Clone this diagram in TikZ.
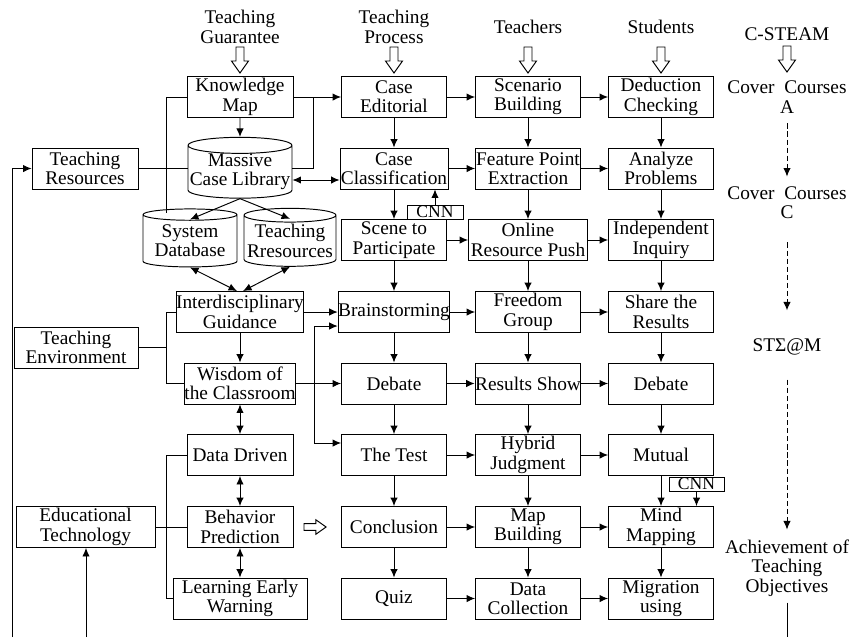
\documentclass[tikz,border=0pt]{standalone}
\usepackage{fontspec}
\setmainfont{Liberation Serif}
\usetikzlibrary{arrows.meta, shapes.geometric, positioning}

\tikzset{
  box/.style={draw, align=center, inner sep=0pt, minimum width=2.1cm, minimum height=0.82cm},
  db/.style={draw, cylinder, shape border rotate=90, aspect=0.16, align=center, inner sep=0pt},
  cnn/.style={draw, inner sep=0pt, minimum height=0.28cm, font=\fontsize{10}{10}\selectfont},
  head/.style={align=center},
  dasharrow/.style={->, dash pattern=on 3pt off 1.6pt},
  hollowdown/.pic={\draw[fill=white] (-4,0) -- (4,0) -- (4,14) -- (8.5,14) -- (0,26) -- (-8.5,14) -- (-4,14) -- cycle;},
}

\begin{document}
\begin{tikzpicture}[x=0.02cm, y=-0.02cm, line width=0.55pt,
  >={Latex[length=1.7mm, width=1.5mm]},
  every node/.style={font=\fontsize{11}{11}\selectfont}]

  \useasboundingbox (0,0) rectangle (850,637);

  % Column heads
  \node[head] (hguar) at (240,27) {Teaching\\Guarantee};
  \node[head] (hproc) at (394,27) {Teaching\\Process};
  \node[head] (hteach) at (528,27) {Teachers};
  \node[head] (hstud) at (661,27) {Students};
  \node[head] (hsteam) at (787,34) {C-STEAM};
  \pic at (240,47) {hollowdown};
  \pic at (394,47) {hollowdown};
  \pic at (528,47) {hollowdown};
  \pic at (661,47) {hollowdown};
  \pic at (787,46) {hollowdown};

  % Teaching guarantee
  \node[box, minimum width=2.12cm] (km) at (240,97) {Knowledge\\Map};
  \node[db, minimum height=1.2cm, minimum width=2.08cm] (mcl) at (240,172) {Massive\\Case Library};
  \node[db, minimum height=1.16cm, minimum width=1.88cm] (sdb) at (190,241) {System\\Database};
  \node[db, minimum height=1.16cm, minimum width=1.84cm] (trr) at (290,241) {Teaching\\Rresources};
  \node[box] (ig) at (240,312) {Interdisciplinary\\Guidance};
  \node[box, minimum width=2.22cm] (wc) at (240,383.5) {Wisdom of\\the Classroom};
  \node[box, minimum width=2.12cm] (dd) at (240,455) {Data Driven};
  \node[box, minimum width=2.12cm] (bp) at (240,527) {Behavior\\Prediction};
  \node[box, minimum width=2.68cm] (lew) at (240,598.5) {Learning Early\\Warning};

  % Left side
  \node[box, minimum width=2.12cm] (tres) at (85,168.5) {Teaching\\Resources};
  \node[box, minimum width=2.48cm] (tenv) at (76,347.5) {Teaching\\Environment};
  \node[box, minimum width=2.78cm] (etech) at (85.5,527) {Educational\\Technology};

  % Teaching process
  \node[box] (ce) at (394,97) {Case\\Editorial};
  \node[box, minimum width=2.16cm] (cc) at (394,168.5) {Case\\Classification};
  \node[box] (stp) at (394,240) {Scene to\\Participate};
  \node[box, minimum width=2.22cm] (bs) at (394,312) {Brainstorming};
  \node[box] (deb1) at (394,383.5) {Debate};
  \node[box] (test) at (394,455) {The Test};
  \node[box] (concl) at (394,527) {Conclusion};
  \node[box] (quiz) at (394,598.5) {Quiz};
  \node[cnn, minimum width=1.12cm] (cnn1) at (435,212) {CNN};

  % Teachers
  \node[box] (sb) at (528,97) {Scenario\\Building};
  \node[box] (fpe) at (528,168.5) {Feature Point\\Extraction};
  \node[box, minimum width=2.38cm] (orp) at (528,240) {Online\\Resource Push};
  \node[box] (fg) at (528,312) {Freedom\\Group};
  \node[box] (rs) at (528,383.5) {Results Show};
  \node[box] (hj) at (528,455) {Hybrid\\Judgment};
  \node[box] (mb) at (528,527) {Map\\Building};
  \node[box] (dc) at (528,598.5) {Data\\Collection};

  % Students
  \node[box] (dch) at (661,97) {Deduction\\Checking};
  \node[box] (ap) at (661,168.5) {Analyze\\Problems};
  \node[box] (ii) at (661,240) {Independent\\Inquiry};
  \node[box] (sr) at (661,312) {Share the\\Results};
  \node[box] (deb2) at (661,383.5) {Debate};
  \node[box] (mut) at (661,455) {Mutual};
  \node[box] (mm) at (661,527) {Mind\\Mapping};
  \node[box] (mu) at (661,598.5) {Migration\\using};
  \node[cnn, minimum width=1.1cm] (cnn2) at (696.5,484) {CNN};

  % C-STEAM
  \node[head] (cca) at (787,97) {Cover\ \ Courses\\A};
  \node[head] (ccc) at (787,203) {Cover\ \ Courses\\C};
  \node[head] (stem) at (787,347) {STΣ@M};
  \node[head] (ato) at (787,568) {Achievement of\\Teaching\\Objectives};
  \draw[dasharrow, shorten <=0.08cm, shorten >=0.08cm] (cca) -- (ccc);
  \draw[dasharrow, shorten <=0.34cm, shorten >=0.44cm] (ccc) -- (stem);
  \draw[dasharrow, shorten <=0.36cm, shorten >=0.08cm] (stem) -- (ato);

  % Brackets on the left
  \coordinate (barL) at (166,0);
  \draw (km.west) -- (km.west -| barL) -- ++(0,116);
  \draw (tres.east) -- (tres.east -| mcl.west);
  \draw (ig.west) -- (ig.west -| barL) -- (wc.west -| barL) -- (wc.west);
  \draw (tenv.east) -- (tenv.east -| barL);
  \draw (dd.west) -- (dd.west -| barL) -- (lew.west -| barL) -- (lew.west);
  \draw (etech.east) -- (bp.west);

  % Long lines to the bottom edge
  \coordinate (lbot) at (12,637);
  \coordinate (ebot) at (86,637);
  \coordinate (abot) at (787,637);
  \draw[->] (lbot) |- (tres.west);
  \draw[->] (ebot) -- (ebot |- etech.south);
  \draw (ato.south) -- (abot);

  % Guarantee links
  \draw[->] (km) -- (mcl);
  \draw[->] (km.east) -- (ce.west);
  \coordinate (mj) at (313,97);
  \draw ([yshift=0.08cm]mcl.east) -| (mj);
  \draw[<->] ([yshift=-0.16cm]mcl.east) -- ([yshift=-0.16cm]mcl.east -| cc.west);
  \draw[->] (mcl.bottom) -- ([yshift=-0.22cm]sdb.top);
  \draw[->] (mcl.bottom) -- ([yshift=-0.22cm]trr.top);
  \draw[<->] (sdb.bottom) -- ([xshift=-0.06cm]ig.north);
  \draw[<->] (trr.bottom) -- ([xshift=0.06cm]ig.north);
  \draw[->] (ig) -- (wc);
  \draw[->] (ig.east) -- (bs.west);
  \draw[->] (wc.east) -- (deb1.west);
  \coordinate (wj) at (314,383.5);
  \draw[->] (wj) |- ([yshift=-0.28cm]bs.west);
  \draw[->] (wj) |- ([yshift=0.24cm]test.west);
  \draw[<->] (wc) -- (dd);
  \draw[<->] (dd) -- (bp);
  \draw[<->] (bp) -- (lew);
  \pic[rotate=90, scale=0.85] at (304,527) {hollowdown};

  % Process column
  \draw[->] (ce) -- (cc);
  \draw[->] (cc) -- (stp);
  \draw[->] (stp) -- (bs);
  \draw[->] (bs) -- (deb1);
  \draw[->] (deb1) -- (test);
  \draw[->] (test) -- (concl);
  \draw[->] (concl) -- (quiz);
  \draw[->] (cnn1.north) -- (cnn1.north |- cc.south);

  % Process to teachers
  \draw[->] (ce) -- (sb);
  \draw[->] (cc) -- (fpe);
  \draw[->] (stp) -- (orp);
  \draw[->] (bs) -- (fg);
  \draw[->] (deb1) -- (rs);
  \draw[->] (test) -- (hj);
  \draw[->] (concl) -- (mb);
  \draw[->] (quiz) -- (dc);

  % Teachers column
  \draw[->] (sb) -- (fpe);
  \draw[->] (fpe) -- (orp);
  \draw[->] (orp) -- (fg);
  \draw[->] (fg) -- (rs);
  \draw[->] (rs) -- (hj);
  \draw[->] (hj) -- (mb);
  \draw[->] (mb) -- (dc);

  % Teachers to students
  \draw[->] (sb) -- (dch);
  \draw[->] (fpe) -- (ap);
  \draw[->] (orp) -- (ii);
  \draw[->] (fg) -- (sr);
  \draw[->] (rs) -- (deb2);
  \draw[->] (hj) -- (mut);
  \draw[->] (mb) -- (mm);
  \draw[->] (dc) -- (mu);

  % Students column
  \draw[->] (dch) -- (ap);
  \draw[->] (ap) -- (ii);
  \draw[->] (ii) -- (sr);
  \draw[->] (sr) -- (deb2);
  \draw[->] (deb2) -- (mut);
  \draw[->] (mut) -- (mm);
  \draw[->] (mm) -- (mu);
  \draw[->] (cnn2.south) -- (cnn2.south |- mm.north);

\end{tikzpicture}
\end{document}
